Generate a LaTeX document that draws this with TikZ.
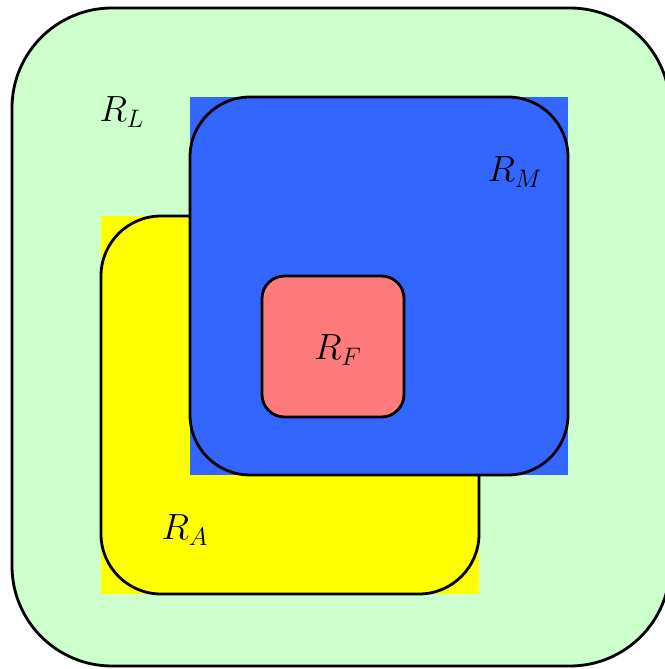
\documentclass[tikz,border=0pt]{standalone}
\usetikzlibrary{positioning}
\definecolor{rlgreen}{HTML}{CCFFCC}
\definecolor{rayellow}{HTML}{FFFF00}
\definecolor{rmblue}{HTML}{3366FF}
\definecolor{rfred}{HTML}{FF7A7A}

\begin{document}
\begin{tikzpicture}[
      border/.style={draw=black, line width=1.6pt},
      setlabel/.style={font=\fontsize{22}{26}\selectfont, inner sep=0pt}
    ]
      \useasboundingbox (0,0) rectangle (13.3,13.38);

      % R_L
      \coordinate (lsw) at (0.24,0.06);
      \coordinate (lne) at (13.4,13.22);
      \fill[rlgreen, rounded corners=2cm] (lsw) rectangle (lne);
      \draw[border, rounded corners=2cm] (lsw) rectangle (lne);

      % R_A
      \coordinate (asw) at (2.02,1.5);
      \coordinate (ane) at (9.58,9.06);
      \fill[rayellow] (asw) rectangle (ane);
      \draw[border, rounded corners=1.2cm] (asw) rectangle (ane);

      % R_M
      \coordinate (msw) at (3.8,3.88);
      \coordinate (mne) at (11.36,11.44);
      \fill[rmblue] (msw) rectangle (mne);
      \draw[border, rounded corners=1.2cm] (msw) rectangle (mne);

      % R_F
      \coordinate (fsw) at (5.24,5.04);
      \coordinate (fne) at (8.08,7.86);
      \draw[border, fill=rfred, rounded corners=0.45cm] (fsw) rectangle (fne);

      % labels
      \node[setlabel] (labl) at (2.44,11.14) {$R_L$};
      \node[setlabel] (labm) at (10.3,9.94) {$R_M$};
      \node[setlabel] (labf) at (6.76,6.38) {$R_F$};
      \node[setlabel] (laba) at (3.7,2.78) {$R_A$};
    \end{tikzpicture}
\end{document}
